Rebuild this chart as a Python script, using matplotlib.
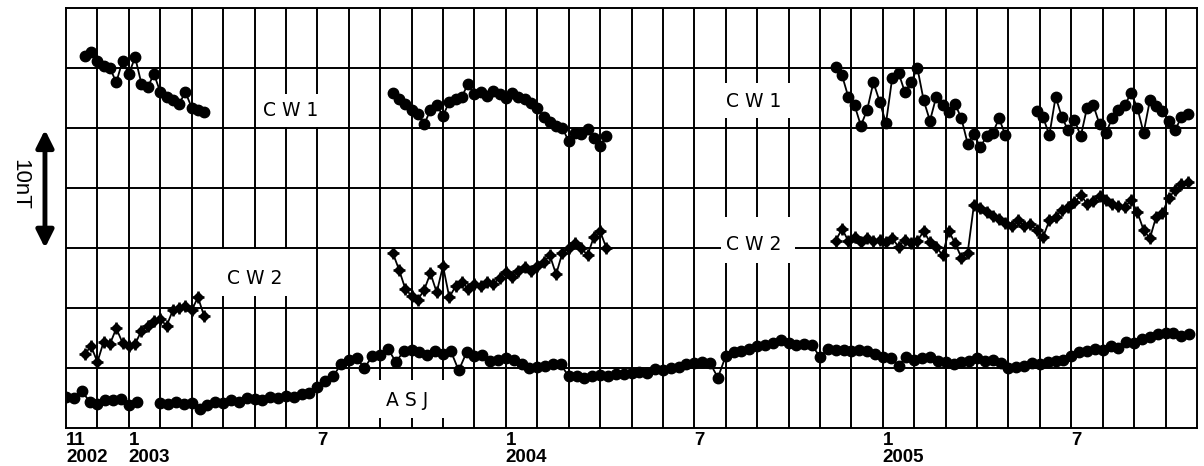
import numpy as np
import matplotlib.pyplot as plt
from matplotlib.patches import Rectangle

# x axis: months counted from 1 Nov 2002, y axis: nT (grid every 5 nT)
tick_months = [0, 2, 8, 14, 20, 26, 32]
tick_labels = ['11\n2002', '1\n2003', '7', '1\n2004', '7', '1\n2005', '7']

# CW1 differences, sampled every 0.2 month
cw1_a_start = 0.6
cw1_a = [31.0, 31.3, 30.6, 30.2, 30.0, 28.8, 30.6, 29.5, 30.9, 28.7,
         28.4, 29.5, 28.0, 27.6, 27.3, 27.0, 28.0, 26.7, 26.5, 26.3]
cw1_b_start = 10.4
cw1_b = [27.9, 27.4, 27.0, 26.5, 26.2, 25.3, 26.5, 26.9, 26.0, 27.2,
         27.4, 27.6, 28.7, 27.8, 28.0, 27.7, 28.1, 27.8, 27.5, 27.9,
         27.6, 27.4, 27.1, 26.7, 25.9, 25.5, 25.2, 25.0, 23.9, 24.6,
         24.5, 24.9, 24.2, 23.5, 24.3]
cw1_c_start = 24.5
cw1_c = [30.1, 29.4, 27.6, 26.9, 25.2, 26.5, 28.8, 27.2, 25.4, 29.2,
         29.6, 28.0, 28.8, 30.0, 27.3, 25.6, 27.6, 26.9, 26.3, 27.0,
         25.8, 23.7, 24.5, 23.4, 24.3, 24.6, 25.8, 24.4]
cw1_d_start = 30.9
cw1_d = [26.4, 25.9, 24.4, 27.6, 25.9, 24.8, 25.7, 24.3, 26.7, 26.9,
         25.3, 24.6, 25.8, 26.5, 26.9, 27.9, 26.7, 24.6, 27.3, 26.8,
         26.4, 25.6, 24.8, 25.9, 26.2]

# CW2 differences, sampled every 0.2 month
cw2_a_start = 0.6
cw2_a = [6.2, 6.8, 5.5, 7.2, 7.0, 8.3, 7.1, 6.8, 7.0, 8.1,
         8.5, 8.9, 9.1, 8.5, 9.8, 10.0, 10.2, 9.8, 10.9, 9.3]
cw2_b_start = 10.4
cw2_b = [14.6, 13.2, 11.6, 11.0, 10.7, 11.5, 12.9, 11.3, 13.5, 10.9,
         11.8, 12.2, 11.6, 12.0, 11.8, 12.2, 12.0, 12.5, 13.0, 12.6,
         13.1, 13.4, 13.1, 13.5, 13.8, 14.4, 12.8, 14.6, 15.0, 15.4,
         15.0, 14.4, 15.9, 16.4, 15.0]
cw2_c_start = 24.5
cw2_c = [15.6, 16.6, 15.6, 15.9, 15.5, 15.8, 15.6, 15.7, 15.5, 15.8,
         15.1, 15.7, 15.4, 15.6, 16.4, 15.5, 15.1, 14.4, 16.4, 15.4,
         14.2, 14.6, 18.6, 18.3, 18.0, 17.7, 17.4, 17.1, 16.8, 17.3,
         16.8, 17.0, 16.5, 15.9, 17.3, 17.6, 18.2, 18.4, 18.8, 19.4,
         18.7, 18.9, 19.3, 19.0, 18.7, 18.5, 18.4, 19.0, 18.0, 16.5,
         15.8, 17.6, 17.9, 19.2, 19.8, 20.3, 20.5]

# ASJ, sampled every 0.25 month
asj_a_start = 0.0
asj_a = [2.6, 2.5, 3.1, 2.2, 2.0, 2.3, 2.35, 2.4, 1.9, 2.2]
asj_b_start = 3.0
asj_b = [2.1, 2.0, 2.15, 2.0, 2.1, 1.6, 1.9, 2.2, 2.1, 2.3, 2.2, 2.5,
         2.4, 2.3, 2.6, 2.5, 2.7, 2.6, 2.8, 2.9, 3.4, 3.9, 4.3, 5.3,
         5.7, 5.8, 5.0, 6.0, 6.1, 6.6, 5.5, 6.4, 6.5, 6.3, 6.1, 6.4,
         6.2, 6.4, 4.8, 6.3, 6.0, 6.1, 5.6, 5.7, 5.8, 5.7, 5.3, 5.0,
         5.1, 5.2, 5.3, 5.3, 4.3, 4.3, 4.2, 4.3, 4.4, 4.3, 4.5, 4.5,
         4.6, 4.7, 4.6, 4.9, 4.8, 5.0, 5.1, 5.3, 5.4, 5.5, 5.4, 4.2,
         6.0, 6.3, 6.4, 6.6, 6.8, 6.9, 7.1, 7.3, 7.1, 6.9, 7.0, 6.9,
         5.9, 6.6, 6.5, 6.5, 6.4, 6.5, 6.4, 6.2, 5.9, 5.8, 5.2, 5.9,
         5.7, 5.8, 5.9, 5.6, 5.5, 5.3, 5.5, 5.6, 5.8, 5.6, 5.7, 5.4,
         5.0, 5.1, 5.2, 5.4, 5.3, 5.5, 5.6, 5.7, 6.0, 6.3, 6.4, 6.6,
         6.5, 6.8, 6.7, 7.2, 7.1, 7.4, 7.6, 7.8, 7.9, 7.9, 7.7, 7.8]

# station labels: text, centre, white box (x0, y0, x1, y1)
labels = [
    ('C W 1', 7.15, 26.5, (6.1, 25.1, 8.3, 27.8)),
    ('C W 1', 21.9, 27.2, (20.85, 25.8, 23.2, 28.75)),
    ('C W 2', 6.0, 12.5, (4.9, 11.0, 7.15, 14.9)),
    ('C W 2', 21.9, 15.25, (20.85, 13.75, 23.2, 17.6)),
    ('A S J', 10.85, 2.25, (9.85, 0.85, 12.15, 4.0)),
]


def draw(ax, start, step, vals, star=False):
    x = start + step * np.arange(len(vals))
    if star:
        ax.plot(x, vals, color='k', lw=1.3, marker='D', ms=5.5, zorder=3)
        ax.plot(x, vals, color='k', lw=0, marker='+', ms=9, mew=1.8, zorder=3)
    else:
        ax.plot(x, vals, color='k', lw=1.3, marker='o', ms=7.5, zorder=3)


fig = plt.figure(figsize=(12.04, 4.66), dpi=100)
ax = fig.add_axes([66 / 1204, 38 / 466, 1131 / 1204, 420 / 466])
ax.set_xlim(0, 36)
ax.set_ylim(0, 35)

ax.vlines(np.arange(1, 36), 0, 35, color='k', lw=1.4, zorder=1)
ax.hlines(np.arange(5, 35, 5), 0, 36, color='k', lw=1.4, zorder=1)
for s in ax.spines.values():
    s.set_linewidth(1.4)

for start, vals in [(cw1_a_start, cw1_a), (cw1_b_start, cw1_b),
                    (cw1_c_start, cw1_c), (cw1_d_start, cw1_d)]:
    draw(ax, start, 0.2, vals)
for start, vals in [(cw2_a_start, cw2_a), (cw2_b_start, cw2_b),
                    (cw2_c_start, cw2_c)]:
    draw(ax, start, 0.2, vals, star=True)
draw(ax, asj_a_start, 0.25, asj_a)
draw(ax, asj_b_start, 0.25, asj_b)

for txt, tx, ty, (x0, y0, x1, y1) in labels:
    ax.add_patch(Rectangle((x0, y0), x1 - x0, y1 - y0, facecolor='white',
                           edgecolor='none', zorder=2))
    ax.text(tx, ty, txt, ha='center', va='center', fontsize=13.5,
            family='DejaVu Sans', zorder=4)

ax.set_yticks([])
ax.set_xticks(tick_months, tick_labels)
ax.tick_params(axis='x', length=0, pad=3)
for lab in ax.get_xticklabels():
    lab.set_ha('left')
    lab.set_fontsize(13.5)
    lab.set_fontweight('bold')
    lab.set_family('Liberation Sans')
    lab.set_linespacing(0.95)

# 10 nT scale arrow on the left
ax.annotate('', xy=(-0.0186, 24.85), xytext=(-0.0186, 15.0),
            xycoords=('axes fraction', 'data'),
            textcoords=('axes fraction', 'data'),
            arrowprops=dict(arrowstyle='<|-|>', lw=3.5, color='k',
                            mutation_scale=26, shrinkA=0, shrinkB=0),
            annotation_clip=False)
ax.text(-0.041, 20.3, '10nT', rotation=270, ha='center', va='center',
        fontsize=16, family='Liberation Sans', transform=ax.get_yaxis_transform(),
        clip_on=False)

fig.savefig('out.png', dpi=100)
